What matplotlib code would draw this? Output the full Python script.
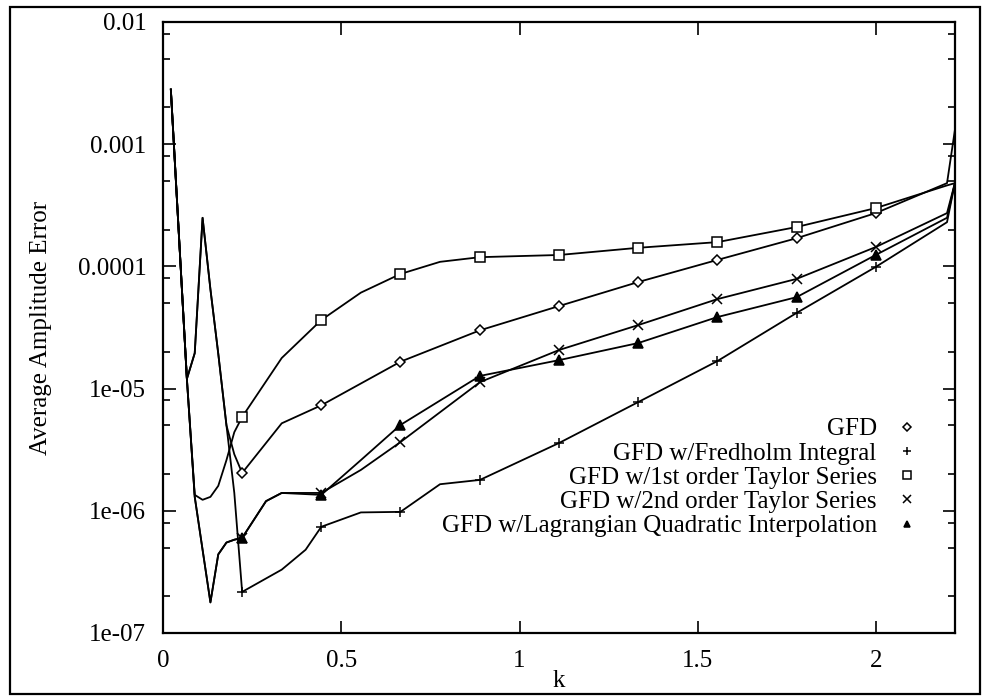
import numpy as np
import matplotlib.pyplot as plt
import matplotlib.patches as patches
from matplotlib.lines import Line2D
from matplotlib.ticker import FixedLocator, FixedFormatter, LogLocator, NullFormatter, NullLocator

plt.rcParams.update({'font.family': ['Liberation Serif', 'DejaVu Serif'], 'font.size': 18})

# k positions where symbols are drawn
k_marks = [0.222, 0.444, 0.666, 0.889, 1.111, 1.333, 1.555, 1.777, 1.999]

# GFD
k_gfd = [0.022, 0.067, 0.089, 0.111, 0.133, 0.155, 0.178, 0.2, 0.222, 0.333, 0.444,
         0.666, 0.889, 1.111, 1.333, 1.555, 1.777, 1.999, 2.199, 2.221]
err_gfd = [2.8e-3, 1.2e-5, 1.95e-5, 2.5e-4, 6.5e-5, 1.93e-5, 5.0e-6, 2.9e-6, 2.04e-6, 5.2e-6, 7.3e-6,
           1.66e-5, 3.0e-5, 4.74e-5, 7.45e-5, 1.13e-4, 1.7e-4, 2.73e-4, 4.8e-4, 1.3e-3]

# GFD w/Fredholm Integral
k_fred = [0.022, 0.067, 0.089, 0.111, 0.133, 0.155, 0.178, 0.2, 0.222, 0.333, 0.4, 0.444, 0.555,
          0.666, 0.777, 0.889, 1.111, 1.333, 1.555, 1.777, 1.999, 2.199, 2.221]
err_fred = [2.8e-3, 1.2e-5, 1.95e-5, 2.5e-4, 6.5e-5, 1.93e-5, 5.0e-6, 1.4e-6, 2.17e-7, 3.3e-7, 4.8e-7, 7.4e-7, 9.7e-7,
            9.8e-7, 1.65e-6, 1.79e-6, 3.59e-6, 7.76e-6, 1.68e-5, 4.16e-5, 9.9e-5, 2.3e-4, 4.8e-4]

# GFD w/1st order Taylor Series
k_tay1 = [0.022, 0.067, 0.089, 0.111, 0.133, 0.155, 0.178, 0.2, 0.222, 0.333, 0.444, 0.555,
          0.666, 0.777, 0.889, 1.111, 1.333, 1.555, 1.777, 1.999, 2.199, 2.221]
err_tay1 = [2.8e-3, 1.2e-5, 1.35e-6, 1.23e-6, 1.3e-6, 1.6e-6, 2.6e-6, 4.4e-6, 5.86e-6, 1.78e-5, 3.64e-5, 6.1e-5,
            8.67e-5, 1.09e-4, 1.19e-4, 1.24e-4, 1.42e-4, 1.58e-4, 2.1e-4, 3.0e-4, 4.6e-4, 4.8e-4]

# GFD w/2nd order Taylor Series
k_tay2 = [0.022, 0.067, 0.089, 0.111, 0.133, 0.155, 0.178, 0.2, 0.222, 0.289, 0.333, 0.444, 0.555,
          0.666, 0.889, 1.111, 1.333, 1.555, 1.777, 1.999, 2.199, 2.221]
err_tay2 = [2.8e-3, 1.2e-5, 1.3e-6, 4.8e-7, 1.78e-7, 4.4e-7, 5.5e-7, 5.8e-7, 6.0e-7, 1.2e-6, 1.4e-6, 1.4e-6, 2.16e-6,
            3.65e-6, 1.13e-5, 2.07e-5, 3.31e-5, 5.4e-5, 7.9e-5, 1.44e-4, 2.73e-4, 4.8e-4]

# GFD w/Lagrangian Quadratic Interpolation
k_lag = [0.022, 0.067, 0.089, 0.111, 0.133, 0.155, 0.178, 0.2, 0.222, 0.289, 0.333, 0.444, 0.555,
         0.666, 0.889, 1.111, 1.333, 1.555, 1.777, 1.999, 2.199, 2.221]
err_lag = [2.8e-3, 1.2e-5, 1.3e-6, 4.8e-7, 1.78e-7, 4.4e-7, 5.5e-7, 5.8e-7, 6.0e-7, 1.2e-6, 1.4e-6, 1.35e-6, 2.6e-6,
           5.04e-6, 1.27e-5, 1.71e-5, 2.36e-5, 3.85e-5, 5.6e-5, 1.24e-4, 2.5e-4, 4.8e-4]

labels = ["GFD", "GFD w/Fredholm Integral", "GFD w/1st order Taylor Series",
          "GFD w/2nd order Taylor Series", "GFD w/Lagrangian Quadratic Interpolation"]

ytick_vals = [1e-7, 1e-6, 1e-5, 1e-4, 1e-3, 1e-2]
ytick_labels = ["1e-07", "1e-06", "1e-05", "0.0001", "0.001", "0.01"]
xtick_vals = [0, 0.5, 1, 1.5, 2]
xtick_labels = ["0", "0.5", "1", "1.5", "2"]

# marker style per series: (marker, size, facecolor)
styles = [('D', 5.5, 'white'), ('+', 7, 'black'), ('s', 7, 'white'), ('x', 7, 'black'), ('^', 6.5, 'black')]
series = [(k_gfd, err_gfd), (k_fred, err_fred), (k_tay1, err_tay1), (k_tay2, err_tay2), (k_lag, err_lag)]

fig = plt.figure(figsize=(9.84, 6.96), dpi=100)
ax = fig.add_axes([163/984, 1 - 633/696, 792/984, 611/696])

handles = []
for (kk, ee), (mk, ms, fc) in zip(series, styles):
    idx = [i for i, k in enumerate(kk) if any(abs(k - m) < 1e-3 for m in k_marks)]
    ax.plot(kk, ee, color='black', lw=1.3, marker=mk, ms=ms, mfc=fc, mec='black', mew=1.1,
            markevery=idx)
    handles.append(Line2D([], [], ls='none', marker=mk, ms=ms * 0.75, mfc=fc, mec='black', mew=1.1))

ax.set_yscale('log')
ax.set_xlim(0, 2.2214)
ax.set_ylim(1e-7, 1e-2)
ax.yaxis.set_major_locator(FixedLocator(ytick_vals))
ax.yaxis.set_major_formatter(FixedFormatter(ytick_labels))
ax.yaxis.set_minor_locator(LogLocator(base=10, subs=(2, 5, 8)))
ax.yaxis.set_minor_formatter(NullFormatter())
ax.xaxis.set_major_locator(FixedLocator(xtick_vals))
ax.xaxis.set_major_formatter(FixedFormatter(xtick_labels))
ax.xaxis.set_minor_locator(NullLocator())
ax.tick_params(which='both', direction='in', top=True, right=True, width=1.2)
ax.tick_params(which='major', length=9, pad=12)
ax.tick_params(which='minor', length=5)
for s in ax.spines.values():
    s.set_linewidth(1.6)

ax.set_ylabel("Average Amplitude Error")
ax.yaxis.set_label_coords(-0.140, 0.5)
ax.set_xlabel("k")
ax.xaxis.set_label_coords(0.5, -0.060)

ax.legend(handles, labels, loc='upper right', bbox_to_anchor=(0.958, 0.352), frameon=False,
          markerfirst=False, handlelength=1.2, handletextpad=0.6, labelspacing=0.07,
          borderaxespad=0, borderpad=0)

# frame round the whole figure
fig.patches.append(patches.Rectangle((10/984, 2/696), 970/984, 687/696, transform=fig.transFigure,
                                     fill=False, edgecolor='black', lw=1.6))

fig.savefig("out.png", dpi=100)
